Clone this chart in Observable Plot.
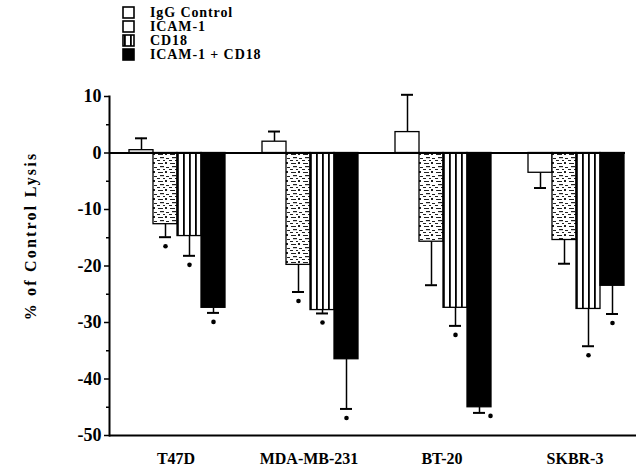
<!DOCTYPE html>
<html><head><meta charset="utf-8">
<script src="https://cdn.jsdelivr.net/npm/d3@7"></script>
<script src="https://cdn.jsdelivr.net/npm/@observablehq/plot@0.6"></script>
<style>
body{margin:0;background:#fff;}
#wrap{position:relative;width:636px;height:468px;}
#legend{position:absolute;left:122px;top:6px;font-family:"Liberation Serif",serif;font-weight:bold;font-size:14px;line-height:14px;letter-spacing:0.9px;color:#000;}
.row{display:flex;align-items:center;height:14px;line-height:14px;}
.row svg{margin-right:14px;}
#ylab{position:absolute;left:31px;top:236px;transform:translate(-50%,-50%) rotate(-90deg);white-space:nowrap;font-family:"Liberation Serif",serif;font-weight:bold;font-size:16px;letter-spacing:2.2px;color:#000;}
</style></head><body>
<div id="wrap"><div id="legend"></div><div id="ylab">% of Control Lysis</div></div>
<script>
const groups = ["T47D", "MDA-MB-231", "BT-20", "SKBR-3"];
const series = ["IgG Control", "ICAM-1", "CD18", "ICAM-1 + CD18"];
const iggValues  = [0.5, 2.0, 3.7, -3.5];
const icamValues = [-12.6, -19.8, -15.7, -15.4];
const cd18Values = [-14.7, -27.8, -27.4, -27.6];
const bothValues = [-27.4, -36.5, -45.0, -23.5];
const iggErr  = [2.1, 1.8, 6.6, 2.7];
const icamErr = [2.3, 4.8, 7.7, 4.2];
const cd18Err = [3.5, 0.6, 3.2, 6.6];
const bothErr = [0.9, 8.8, 1.0, 5.0];
// significance markers (group, series)
const starsBelow = [["T47D","ICAM-1"],["T47D","CD18"],["T47D","ICAM-1 + CD18"],
  ["MDA-MB-231","ICAM-1"],["MDA-MB-231","CD18"],["MDA-MB-231","ICAM-1 + CD18"],
  ["BT-20","CD18"],["SKBR-3","CD18"],["SKBR-3","ICAM-1 + CD18"]];
const starsRight = [["BT-20","ICAM-1 + CD18"]];
const yTicks = [10, 0, -10, -20, -30, -40, -50];
const yMinor = [5, -5, -15, -25, -35, -45];

const values = [iggValues, icamValues, cd18Values, bothValues];
const errs = [iggErr, icamErr, cd18Err, bothErr];
const fills = {"IgG Control": "white", "ICAM-1": "url(#speckle)", "CD18": "url(#stripes)", "ICAM-1 + CD18": "black"};

const table = groups.flatMap((g, i) => series.map((s, j) => {
  const v = values[j][i];
  return {group: g, series: s, value: v, end: v + (v >= 0 ? 1 : -1) * errs[j][i]};
}));
const find = ([g, s]) => table.find(d => d.group === g && d.series === s);
const below = starsBelow.map(find);
const right = starsRight.map(find);

const lastGroup = groups[groups.length - 1];
const zeroMain = groups.filter(g => g !== lastGroup).map(g => ({group: g}));
const zeroLast = [{group: lastGroup}];

const plot = Plot.plot({
  width: 636, height: 468,
  marginLeft: 108, marginRight: 0, marginTop: 96, marginBottom: 33,
  style: {fontFamily: "Liberation Serif, serif", fontWeight: "bold", background: "white", color: "black"},
  fx: {domain: groups, range: [108, 641], padding: 0, label: null},
  x: {domain: series, range: [127, 225], padding: 0, axis: null},
  y: {domain: [-50, 10], label: null},
  marks: [
    Plot.axisFx({anchor: "bottom", tickSize: 0, tickPadding: 17, fontSize: 16, label: null}),
    Plot.axisY({ticks: yTicks, tickSize: 5, tickPadding: 3, fontSize: 18, label: null, tickFormat: d => String(d), strokeWidth: 1.5}),
    Plot.axisY({ticks: yMinor, tickSize: 3, tickFormat: () => "", label: null, strokeWidth: 1.5}),
    Plot.frame({anchor: "left", facetAnchor: "left", strokeWidth: 2}),
    Plot.ruleY([-50], {strokeWidth: 2}),
    Plot.ruleX(table, {x: "series", y1: "value", y2: "end", fx: "group", strokeWidth: 1.5}),
    Plot.tickY(table, {x: "series", y: "end", fx: "group", strokeWidth: 2, insetLeft: 6, insetRight: 6}),
    Plot.barY(table, {x: "series", y: "value", fx: "group", fill: d => fills[d.series], stroke: "black", strokeWidth: 1.3}),
    Plot.ruleY(zeroMain, {y: () => 0, fx: "group", strokeWidth: 2}),
    Plot.ruleY(zeroLast, {y: () => 0, fx: "group", strokeWidth: 2, insetRight: 16}),
    Plot.dot(below, {x: "series", y: "end", fx: "group", dy: 9, r: 2.3, fill: "black", stroke: null}),
    Plot.dot(right, {x: "series", y: "end", fx: "group", dx: 11, dy: 3, r: 2.3, fill: "black", stroke: null})
  ]
});

const svg = d3.select(plot);
const defs = svg.insert("defs", ":first-child");
const st = defs.append("pattern").attr("id", "stripes").attr("patternUnits", "userSpaceOnUse").attr("width", 6).attr("height", 10);
st.append("rect").attr("width", 6).attr("height", 10).attr("fill", "white");
st.append("rect").attr("x", 2).attr("width", 1.8).attr("height", 10).attr("fill", "black");
const sp = defs.append("pattern").attr("id", "speckle").attr("patternUnits", "userSpaceOnUse").attr("width", 12).attr("height", 9);
sp.append("rect").attr("width", 12).attr("height", 9).attr("fill", "white");
[[1,1,5,1],[8,0,2,2],[3,4,4,1.2],[9,5,3,1],[0,7,3,1],[6,7,2,1]].forEach(([x,y,w,h]) =>
  sp.append("rect").attr("x", x).attr("y", y).attr("width", w).attr("height", h).attr("fill", "#222"));
document.getElementById("wrap").appendChild(plot);

const legend = d3.select("#legend");
series.forEach(s => {
  const row = legend.append("div").attr("class", "row");
  const sw = row.append("svg").attr("width", 14).attr("height", 14);
  sw.append("rect").attr("x", 1).attr("y", 1).attr("width", 11).attr("height", 11)
    .attr("fill", s === "ICAM-1" ? "white" : fills[s]).attr("stroke", "black").attr("stroke-width", 1.6);
  row.append("span").text(s);
});
</script>
</body></html>
